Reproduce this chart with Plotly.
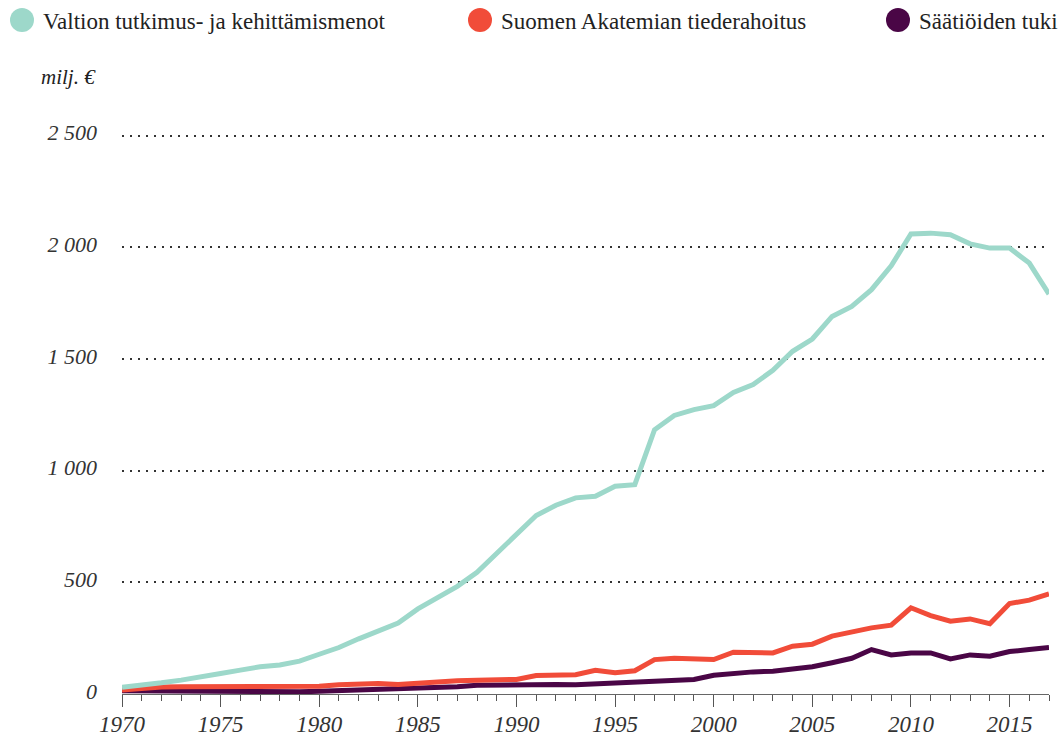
import plotly.graph_objects as go

# data (milj. €)
years = list(range(1970, 2018))

valtion = [30, 38, 50, 62, 75, 92, 107, 122, 130, 147,
           178, 208, 247, 281, 318, 381, 430, 482, 545, 632,
           714, 799, 845, 878, 885, 930, 937, 1183, 1247, 1273,
           1291, 1350, 1385, 1449, 1534, 1589, 1690, 1735, 1810, 1917,
           2059, 2063, 2056, 2015, 1996, 1996, 1929, 1790]

akatemia = [18, 25, 31, 33, 33, 34, 36, 34, 33, 32,
            35, 41, 44, 47, 43, 50, 57, 59, 62, 63,
            65, 83, 84, 86, 106, 95, 104, 154, 160, 157,
            154, 187, 184, 184, 214, 223, 259, 277, 296, 308,
            386, 351, 326, 336, 315, 405, 420, 448]

saatiot = [15, 14, 13, 12, 12, 12, 12, 10, 10, 10,
           12, 15, 17, 18, 20, 22, 28, 33, 39, 40,
           42, 45, 43, 41, 45, 50, 56, 57, 62, 65,
           84, 92, 99, 102, 110, 122, 140, 160, 199, 175,
           184, 184, 157, 175, 169, 190, 199, 208]

names = ["Valtion tutkimus- ja kehittämismenot",
         "Suomen Akatemian tiederahoitus",
         "Säätiöiden tuki"]
colors = ["#9DD8CA", "#F14C39", "#4A0646"]

ytick_vals = [0, 500, 1000, 1500, 2000, 2500]
ytick_text = ["0", "500", "1 000", "1 500", "2 000", "2 500"]
xtick_vals = [1970, 1975, 1980, 1985, 1990, 1995, 2000, 2005, 2010, 2015]

W, H = 1063, 739
L, R, T, B = 122, 14, 102, 44.5
pw, ph = W - L - R, H - T - B


def px_x(x):
    return (x - L) / pw


def px_y(y):
    return (H - B - y) / ph


fig = go.Figure()

# purple under red under green
for vals, col in [(saatiot, colors[2]), (akatemia, colors[1]), (valtion, colors[0])]:
    fig.add_trace(go.Scatter(x=years, y=vals, mode="lines",
                             line=dict(color=col, width=5),
                             showlegend=False, hoverinfo="x+y"))

serif = "Liberation Serif"

# hand made legend (big dots)
leg_dot_x = [22, 480, 898]
for name, col, dx in zip(names, colors, leg_dot_x):
    fig.add_shape(type="circle", xref="paper", yref="paper",
                  xsizemode="pixel", ysizemode="pixel",
                  xanchor=px_x(dx), yanchor=px_y(20),
                  x0=-12, x1=12, y0=-12, y1=12,
                  fillcolor=col, line_width=0)
    fig.add_annotation(text=name, xref="paper", yref="paper",
                       x=px_x(dx + 19), y=px_y(21), xanchor="left", yanchor="middle",
                       showarrow=False, font=dict(family=serif, size=23, color="#222"))

fig.add_annotation(text="milj. €", xref="paper", yref="paper",
                   x=px_x(39), y=px_y(77), xanchor="left", yanchor="middle",
                   showarrow=False,
                   font=dict(family=serif, size=21, color="#222", style="italic"))

fig.update_layout(
    width=W, height=H,
    margin=dict(l=L, r=R, t=T, b=B),
    plot_bgcolor="white", paper_bgcolor="white",
    font=dict(family=serif, color="#333"),
)

fig.update_xaxes(
    range=[1970, 2017], automargin=False,
    tickvals=xtick_vals,
    showgrid=False, zeroline=False,
    showline=True, linecolor="#666", linewidth=1,
    ticks="outside", ticklen=12, tickcolor="#555", tickwidth=1,
    minor=dict(dtick=1, ticks="outside", ticklen=6, tickcolor="#555", tickwidth=1),
    ticklabelstandoff=-3,
    tickfont=dict(family=serif, size=23, color="#333", style="italic"),
)

fig.update_yaxes(
    range=[0, 2650], automargin=False,
    tickvals=ytick_vals, ticktext=ytick_text,
    showgrid=True, gridcolor="#333", gridwidth=1.5, griddash="2px,6px",
    zeroline=False, showline=False, ticks="",
    ticklabelstandoff=24, ticklabelshift=-3,
    tickfont=dict(family=serif, size=22, color="#333", style="italic"),
)

# page body margin off so the figure sits at the window corner
fig.write_html("out.html", config={"displayModeBar": False},
               post_script="document.body.style.margin='0px';")
